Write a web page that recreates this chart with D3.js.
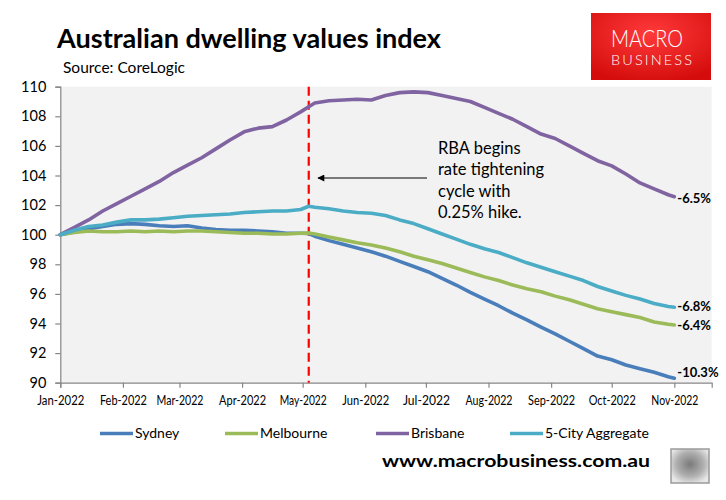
<!DOCTYPE html>
<html>
<head>
<meta charset="utf-8">
<script src="https://cdn.jsdelivr.net/npm/d3@7/dist/d3.min.js"></script>
<style>
  html, body { margin: 0; padding: 0; background: #ffffff; }
  svg { display: block; }
  text { font-family: Lato, "Open Sans", sans-serif; }
</style>
</head>
<body>
<svg id="chart" width="726" height="500"></svg>
<script>
// ---------------- DATA ----------------
const dates = [
  "2022-01-01","2022-01-08","2022-01-15","2022-01-22","2022-01-29",
  "2022-02-05","2022-02-12","2022-02-19","2022-02-26",
  "2022-03-05","2022-03-12","2022-03-19","2022-03-26",
  "2022-04-02","2022-04-09","2022-04-16","2022-04-23","2022-04-30",
  "2022-05-04","2022-05-07","2022-05-14","2022-05-21","2022-05-28",
  "2022-06-04","2022-06-11","2022-06-18","2022-06-25",
  "2022-07-02","2022-07-09","2022-07-16","2022-07-23","2022-07-30",
  "2022-08-06","2022-08-13","2022-08-20","2022-08-27",
  "2022-09-03","2022-09-10","2022-09-17","2022-09-24",
  "2022-10-01","2022-10-08","2022-10-15","2022-10-22","2022-10-29",
  "2022-11-01"
];
const sydney = [100.0,100.2,100.4,100.55,100.7,100.75,100.7,100.6,100.55,100.6,100.45,100.35,100.3,100.3,100.25,100.2,100.1,100.1,100.08,99.9,99.6,99.35,99.1,98.85,98.55,98.2,97.85,97.5,97.05,96.6,96.1,95.65,95.2,94.7,94.25,93.75,93.3,92.8,92.3,91.8,91.55,91.2,90.95,90.7,90.4,90.3];
const melbourne = [100.0,100.15,100.25,100.2,100.2,100.25,100.2,100.25,100.2,100.25,100.25,100.2,100.15,100.1,100.1,100.05,100.05,100.1,100.12,100.05,99.85,99.65,99.45,99.3,99.1,98.85,98.55,98.3,98.05,97.75,97.45,97.15,96.9,96.6,96.35,96.15,95.85,95.6,95.3,95.0,94.8,94.6,94.4,94.1,93.95,93.9];
const brisbane = [100.0,100.5,101.0,101.6,102.1,102.6,103.1,103.6,104.2,104.7,105.2,105.8,106.4,106.95,107.2,107.3,107.75,108.3,108.65,108.9,109.05,109.1,109.15,109.1,109.4,109.6,109.65,109.6,109.4,109.2,109.0,108.6,108.2,107.8,107.3,106.8,106.5,106.0,105.5,105.0,104.65,104.1,103.5,103.1,102.7,102.57];
const aggregate = [100.0,100.3,100.55,100.65,100.85,101.0,101.0,101.05,101.15,101.25,101.3,101.35,101.4,101.5,101.55,101.6,101.6,101.7,101.92,101.85,101.75,101.6,101.5,101.45,101.3,101.0,100.75,100.4,100.05,99.7,99.35,99.05,98.8,98.45,98.1,97.8,97.5,97.2,96.9,96.5,96.2,95.9,95.65,95.35,95.15,95.1];

const seriesNames = ["Sydney","Melbourne","Brisbane","5-City Aggregate"];
const endLabels = ["-10.3%","-6.4%","-6.5%","-6.8%"];
const colors = ["#4a7ebb","#9bbb59","#8064a2","#4bacc6"];
const yTicks = [90,92,94,96,98,100,102,104,106,108,110];
const monthTicks = ["2022-01-01","2022-02-01","2022-03-01","2022-04-01","2022-05-01","2022-06-01","2022-07-01","2022-08-01","2022-09-01","2022-10-01","2022-11-01"];
const rbaDate = "2022-05-04";
const annotationLines = ["RBA begins","rate tightening","cycle with","0.25% hike."];

// ---------------- SETUP ----------------
const parse = d3.utcParse("%Y-%m-%d");
const svg = d3.select("#chart");
const plot = {left: 60.3, right: 711.7, top: 86.7, bottom: 382.7};

const x = d3.scaleUtc()
  .domain([parse("2022-01-01"), new Date(Date.UTC(2022, 10, 19, 12))])
  .range([plot.left, plot.right]);
const y = d3.scaleLinear().domain([90, 110]).range([plot.bottom, plot.top]);

// Title & source
svg.append("text").attr("x", 57).attr("y", 48)
  .attr("font-size", 27).attr("font-weight", 700).attr("fill", "#000")
  .attr("textLength", 384).attr("lengthAdjust", "spacingAndGlyphs")
  .text("Australian dwelling values index");
svg.append("text").attr("x", 63).attr("y", 73)
  .attr("font-size", 15.5).attr("fill", "#000")
  .text("Source: CoreLogic");

// Logo
const defs = svg.append("defs");
const rg = defs.append("radialGradient").attr("id", "logoGrad")
  .attr("cx", "50%").attr("cy", "30%").attr("r", "75%");
rg.append("stop").attr("offset", "0%").attr("stop-color", "#ff3a3a");
rg.append("stop").attr("offset", "100%").attr("stop-color", "#d40c0c");
svg.append("rect").attr("x", 591).attr("y", 13).attr("width", 120).attr("height", 67)
  .attr("fill", "url(#logoGrad)");
svg.append("text").attr("x", 611).attr("y", 46.5)
  .attr("font-family", "Roboto, 'DejaVu Sans', sans-serif")
  .attr("font-weight", 300).attr("font-size", 24).attr("fill", "#fff")
  .attr("textLength", 72).attr("lengthAdjust", "spacingAndGlyphs")
  .text("MACRO");
svg.append("text").attr("x", 611).attr("y", 65)
  .attr("font-family", "Roboto, 'DejaVu Sans', sans-serif")
  .attr("font-weight", 300).attr("font-size", 14.5).attr("fill", "#fff")
  .attr("textLength", 81).attr("lengthAdjust", "spacing")
  .text("BUSINESS");

// Plot background
svg.append("rect").attr("x", plot.left).attr("y", plot.top)
  .attr("width", plot.right - plot.left).attr("height", plot.bottom - plot.top)
  .attr("fill", "#f2f2f2");

// Axes
const yAxis = svg.append("g").attr("transform", `translate(${plot.left},0)`)
  .call(d3.axisLeft(y).tickValues(yTicks).tickFormat(d3.format("d")).tickSize(5).tickPadding(9));
const xAxis = svg.append("g").attr("transform", `translate(0,${plot.bottom})`)
  .call(d3.axisBottom(x).tickValues(monthTicks.map(parse)).tickFormat(d3.utcFormat("%b-%Y")).tickSize(5).tickPadding(8));
[yAxis, xAxis].forEach(g => {
  g.select(".domain").attr("stroke", "#868686").attr("stroke-width", 1.2);
  g.selectAll(".tick line").attr("stroke", "#868686").attr("stroke-width", 1.2);
  g.selectAll("text").attr("fill", "#000").attr("font-family", "Lato, sans-serif");
});
yAxis.selectAll("text").attr("font-size", 14.5);
xAxis.selectAll("text").attr("font-size", 12.5)
  .attr("textLength", 47).attr("lengthAdjust", "spacingAndGlyphs");

// RBA dashed line
svg.append("line")
  .attr("x1", x(parse(rbaDate))).attr("x2", x(parse(rbaDate)))
  .attr("y1", plot.top).attr("y2", plot.bottom)
  .attr("stroke", "#ff0000").attr("stroke-width", 2.2)
  .attr("stroke-dasharray", "9,5");

// Lines
const allSeries = [sydney, melbourne, brisbane, aggregate];
const line = d3.line().x((d, i) => x(parse(dates[i]))).y(d => y(d));
allSeries.forEach((vals, si) => {
  svg.append("path").datum(vals)
    .attr("d", line)
    .attr("fill", "none")
    .attr("stroke", colors[si])
    .attr("stroke-width", 3.6)
    .attr("stroke-linejoin", "round")
    .attr("stroke-linecap", "round");
});

// End labels
const labelShift = [-6, 0, 1.5, -0.5];
allSeries.forEach((vals, si) => {
  const last = vals.length - 1;
  svg.append("text")
    .attr("x", x(parse(dates[last])) + 3)
    .attr("y", y(vals[last]) + labelShift[si])
    .attr("dy", "0.35em")
    .attr("font-size", 13).attr("font-weight", 700).attr("fill", "#000")
    .text(endLabels[si]);
});

// Annotation
const annX = 438;
annotationLines.forEach((t, i) => {
  svg.append("text").attr("x", annX).attr("y", 154 + i * 21.3)
    .attr("font-size", 16.5).attr("fill", "#000").text(t);
});
defs.append("marker").attr("id", "arrow").attr("viewBox", "0 0 10 10")
  .attr("refX", 9).attr("refY", 5).attr("markerWidth", 9).attr("markerHeight", 7)
  .attr("markerUnits", "userSpaceOnUse").attr("orient", "auto")
  .append("path").attr("d", "M0,0 L10,5 L0,10 z").attr("fill", "#000");
svg.append("line").attr("x1", 427).attr("y1", 178).attr("x2", 318).attr("y2", 178)
  .attr("stroke", "#000").attr("stroke-width", 1).attr("marker-end", "url(#arrow)");

// Legend
const legendX = [100, 225, 376, 510];
seriesNames.forEach((n, i) => {
  svg.append("line").attr("x1", legendX[i]).attr("x2", legendX[i] + 33)
    .attr("y1", 433.5).attr("y2", 433.5)
    .attr("stroke", colors[i]).attr("stroke-width", 3.6);
  svg.append("text").attr("x", legendX[i] + 35).attr("y", 433.5).attr("dy", "0.35em")
    .attr("font-size", 14).attr("fill", "#000").text(n);
});

// Footer
svg.append("text").attr("x", 382).attr("y", 467)
  .attr("font-family", "'DejaVu Sans', Verdana, sans-serif")
  .attr("font-size", 17.5).attr("font-weight", 700).attr("fill", "#000")
  .attr("textLength", 268).attr("lengthAdjust", "spacingAndGlyphs")
  .text("www.macrobusiness.com.au");
const wg = defs.append("radialGradient").attr("id", "wolfGrad").attr("cx", "50%").attr("cy", "45%").attr("r", "60%");
wg.append("stop").attr("offset", "0%").attr("stop-color", "#7a7a7a");
wg.append("stop").attr("offset", "60%").attr("stop-color", "#b0b0b0");
wg.append("stop").attr("offset", "100%").attr("stop-color", "#e8e8e8");
svg.append("rect").attr("x", 671).attr("y", 449).attr("width", 38).attr("height", 34)
  .attr("fill", "url(#wolfGrad)").attr("stroke", "#9a9a9a").attr("stroke-width", 1.5);
</script>
</body>
</html>
